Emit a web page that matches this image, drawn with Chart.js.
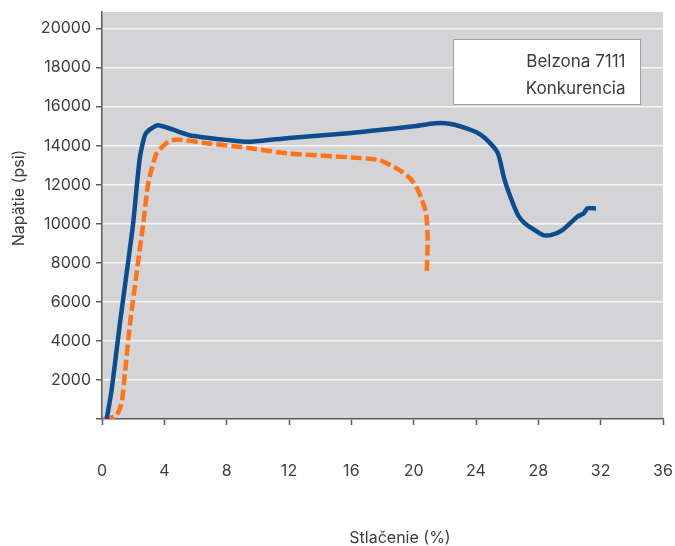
<!DOCTYPE html>
<html>
<head>
<meta charset="utf-8">
<script src="https://cdn.jsdelivr.net/npm/chart.js@4"></script>
<style>
  html, body { margin: 0; padding: 0; background: #fff; }
  #wrap { width: 675px; height: 546px; }
</style>
</head>
<body>
<div id="wrap"><canvas id="stressChart"></canvas></div>
<script>
// values
var seriesNames = ["Belzona 7111", "Konkurencia"];

var belzonaX = [0.3, 0.62, 1.15, 1.58, 2.0, 2.43, 2.82, 3.6, 5.6, 8.2, 9.5, 12.0, 16.0, 17.8, 20.0, 21.4, 22.3, 23.1, 24.0, 24.6, 25.4, 25.8, 26.2, 26.7, 27.1, 27.6, 28.3, 28.8, 29.55, 30.5, 30.9, 31.15, 31.7];
var belzonaY = [0, 1500, 4900, 7470, 10030, 13400, 14640, 15050, 14540, 14280, 14200, 14400, 14650, 14800, 15000, 15150, 15130, 14970, 14700, 14370, 13620, 12340, 11400, 10440, 10050, 9760, 9420, 9420, 9680, 10360, 10530, 10790, 10790];

var konkurX = [0.08, 0.5, 0.94, 1.26, 1.47, 1.8, 2.22, 2.65, 2.97, 3.5, 4.25, 4.8, 6.9, 9.5, 12.0, 16.0, 17.8, 19.1, 19.8, 20.16, 20.5, 20.8, 20.9, 20.84];
var konkurY = [0, 50, 200, 820, 2350, 4900, 7470, 10030, 12080, 13600, 14200, 14320, 14110, 13870, 13600, 13400, 13260, 12750, 12300, 11900, 11300, 10530, 9160, 7540];

var xTicks = [0, 4, 8, 12, 16, 20, 24, 28, 32, 36];
var yTicks = [0, 2000, 4000, 6000, 8000, 10000, 12000, 14000, 16000, 18000, 20000];

var xTitle = "Stlačenie (%)";
var yTitle = "Napätie (psi)";

function toPoints(xs, ys) {
    return xs.map(function (x, i) { return { x: x, y: ys[i] }; });
}

var textColor = "#3c3c3c";
var axisColor = "#5a5a5a";

Chart.defaults.font.family = "Inter, 'Open Sans', sans-serif";
Chart.defaults.font.size = 16;
Chart.defaults.color = textColor;

// gray plot background
var plotBackground = {
    id: "plotBackground",
    beforeDraw: function (chart) {
        var a = chart.chartArea, ctx = chart.ctx;
        ctx.save();
        ctx.fillStyle = "#d4d4d6";
        ctx.fillRect(a.left, a.top, a.right - a.left, a.bottom - a.top);
        ctx.restore();
    }
};

// axis titles and the boxed legend
var extras = {
    id: "extras",
    afterDraw: function (chart) {
        var a = chart.chartArea, ctx = chart.ctx;
        ctx.save();
        ctx.fillStyle = textColor;
        ctx.font = "16px Inter, 'Open Sans', sans-serif";
        ctx.textAlign = "center";
        ctx.textBaseline = "middle";
        ctx.fillText(xTitle, 400, 538);
        ctx.translate(19, 198);
        ctx.rotate(-Math.PI / 2);
        ctx.fillText(yTitle, 0, 0);
        ctx.restore();

        ctx.save();
        var bx = a.right - 209.5, by = a.top + 27.5, bw = 187, bh = 65;
        ctx.fillStyle = "#ffffff";
        ctx.fillRect(bx, by, bw, bh);
        ctx.strokeStyle = "#a0a0a0";
        ctx.lineWidth = 1;
        ctx.strokeRect(bx, by, bw, bh);
        ctx.fillStyle = textColor;
        ctx.font = "17px Inter, 'Open Sans', sans-serif";
        ctx.textAlign = "right";
        ctx.textBaseline = "alphabetic";
        chart.data.datasets.forEach(function (ds, i) {
            ctx.fillText(ds.label, bx + bw - 15, by + 27 + i * 27);
        });
        ctx.restore();
    }
};

var canvasElement = document.getElementById("stressChart");
var config = {
    type: "scatter",
    data: {
        datasets: [{
            label: seriesNames[0],
            data: toPoints(belzonaX, belzonaY),
            showLine: true,
            borderColor: "#0b4d8e",
            borderWidth: 4.5,
            pointRadius: 0,
            tension: 0.2
        }, {
            label: seriesNames[1],
            data: toPoints(konkurX, konkurY),
            showLine: true,
            borderColor: "#ff7417",
            borderWidth: 4.5,
            borderDash: [11, 4],
            pointRadius: 0,
            tension: 0.2
        }]
    },
    options: {
        responsive: true,
        maintainAspectRatio: false,
        animation: false,
        layout: { padding: { top: 12, right: 12, left: 0, bottom: 0 } },
        plugins: {
            legend: { display: false },
            tooltip: { enabled: false }
        },
        scales: {
            x: {
                type: "linear",
                min: 0,
                max: 36,
                afterBuildTicks: function (scale) {
                    scale.ticks = xTicks.map(function (v) { return { value: v }; });
                },
                afterFit: function (scale) {
                    scale.height = 127;
                    scale.paddingLeft = 0;
                    scale.paddingRight = 0;
                },
                grid: {
                    drawOnChartArea: false,
                    drawTicks: true,
                    tickLength: 6,
                    tickColor: axisColor,
                    tickWidth: 1.5
                },
                border: { display: true, color: axisColor, width: 1.5 },
                ticks: { padding: 37, maxRotation: 0 }
            },
            y: {
                min: 0,
                max: 20850,
                afterBuildTicks: function (scale) {
                    scale.ticks = yTicks.map(function (v) { return { value: v }; });
                },
                afterFit: function (scale) {
                    scale.width = 102;
                    scale.paddingTop = 0;
                    scale.paddingBottom = 0;
                },
                grid: {
                    color: "#f5f5f5",
                    lineWidth: 1.5,
                    drawTicks: true,
                    tickLength: 6,
                    tickColor: axisColor,
                    tickWidth: 1.5
                },
                border: { display: true, color: axisColor, width: 1.5 },
                ticks: {
                    padding: 5,
                    callback: function (v) { return v === 0 ? "" : String(v); }
                }
            }
        }
    },
    plugins: [plotBackground, extras]
};

var stressChart = new Chart(canvasElement, config);
</script>
</body>
</html>
